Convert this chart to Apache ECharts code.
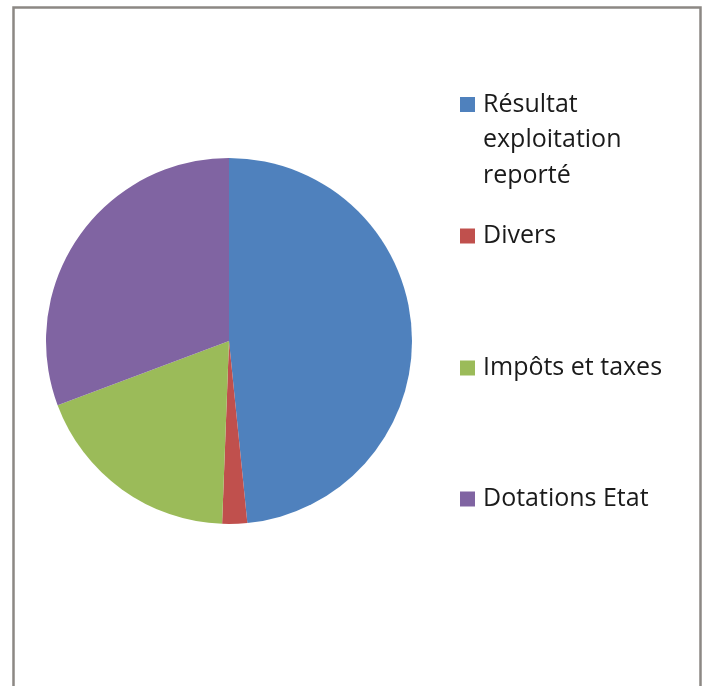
<!DOCTYPE html>
<html><head><meta charset="utf-8">
<script src="https://cdn.jsdelivr.net/npm/echarts@6/dist/echarts.min.js"></script>
<style>html,body{margin:0;padding:0;background:#fff}#c{width:702px;height:686px}</style>
</head><body><div id="c"></div>
<script>
const categories = ['Résultat exploitation reporté', 'Divers', 'Impôts et taxes', 'Dotations Etat'];
const legendLabels = ['\n\nRésultat\nexploitation\nreporté', 'Divers', 'Impôts et taxes', 'Dotations Etat'];
const values = [48.4, 2.2, 18.7, 30.7];
const colors = ['#4F81BD', '#C0504D', '#9BBB59', '#8064A2'];

const legendCenters = [104.5, 236, 368, 499];
const lineH = 35.5;
const font = 'Open Sans';
const legends = categories.map((name, i) => {
  const nLines = legendLabels[i].split('\n').length;
  return {
    orient: 'vertical',
    left: 460,
    top: legendCenters[i] - nLines * lineH / 2,
    data: [name],
    icon: 'rect',
    itemWidth: 15,
    itemHeight: 15,
    itemGap: 0,
    padding: 0,
    selectedMode: false,
    formatter: () => legendLabels[i],
    textStyle: {
      fontFamily: font, fontSize: 25, color: '#1a1a1a', lineHeight: lineH,
      padding: [0, 0, 0, 3]
    }
  };
});

const chart = echarts.init(document.getElementById('c'), null, {renderer: 'canvas'});
chart.setOption({
  backgroundColor: '#ffffff',
  animation: false,
  color: colors,
  graphic: [{
    type: 'rect', left: 11, top: 5, z: -1,
    shape: {x: 0, y: 0, width: 687, height: 700},
    style: {fill: 'none', stroke: '#8c8884', lineWidth: 2.5}
  }],
  legend: legends,
  series: [{
    type: 'pie',
    center: [229, 341],
    radius: 183,
    startAngle: 90,
    clockwise: true,
    label: {show: false},
    labelLine: {show: false},
    itemStyle: {borderWidth: 0},
    emphasis: {disabled: true},
    data: categories.map((n, i) => ({name: n, value: values[i]}))
  }]
});
</script></body></html>
